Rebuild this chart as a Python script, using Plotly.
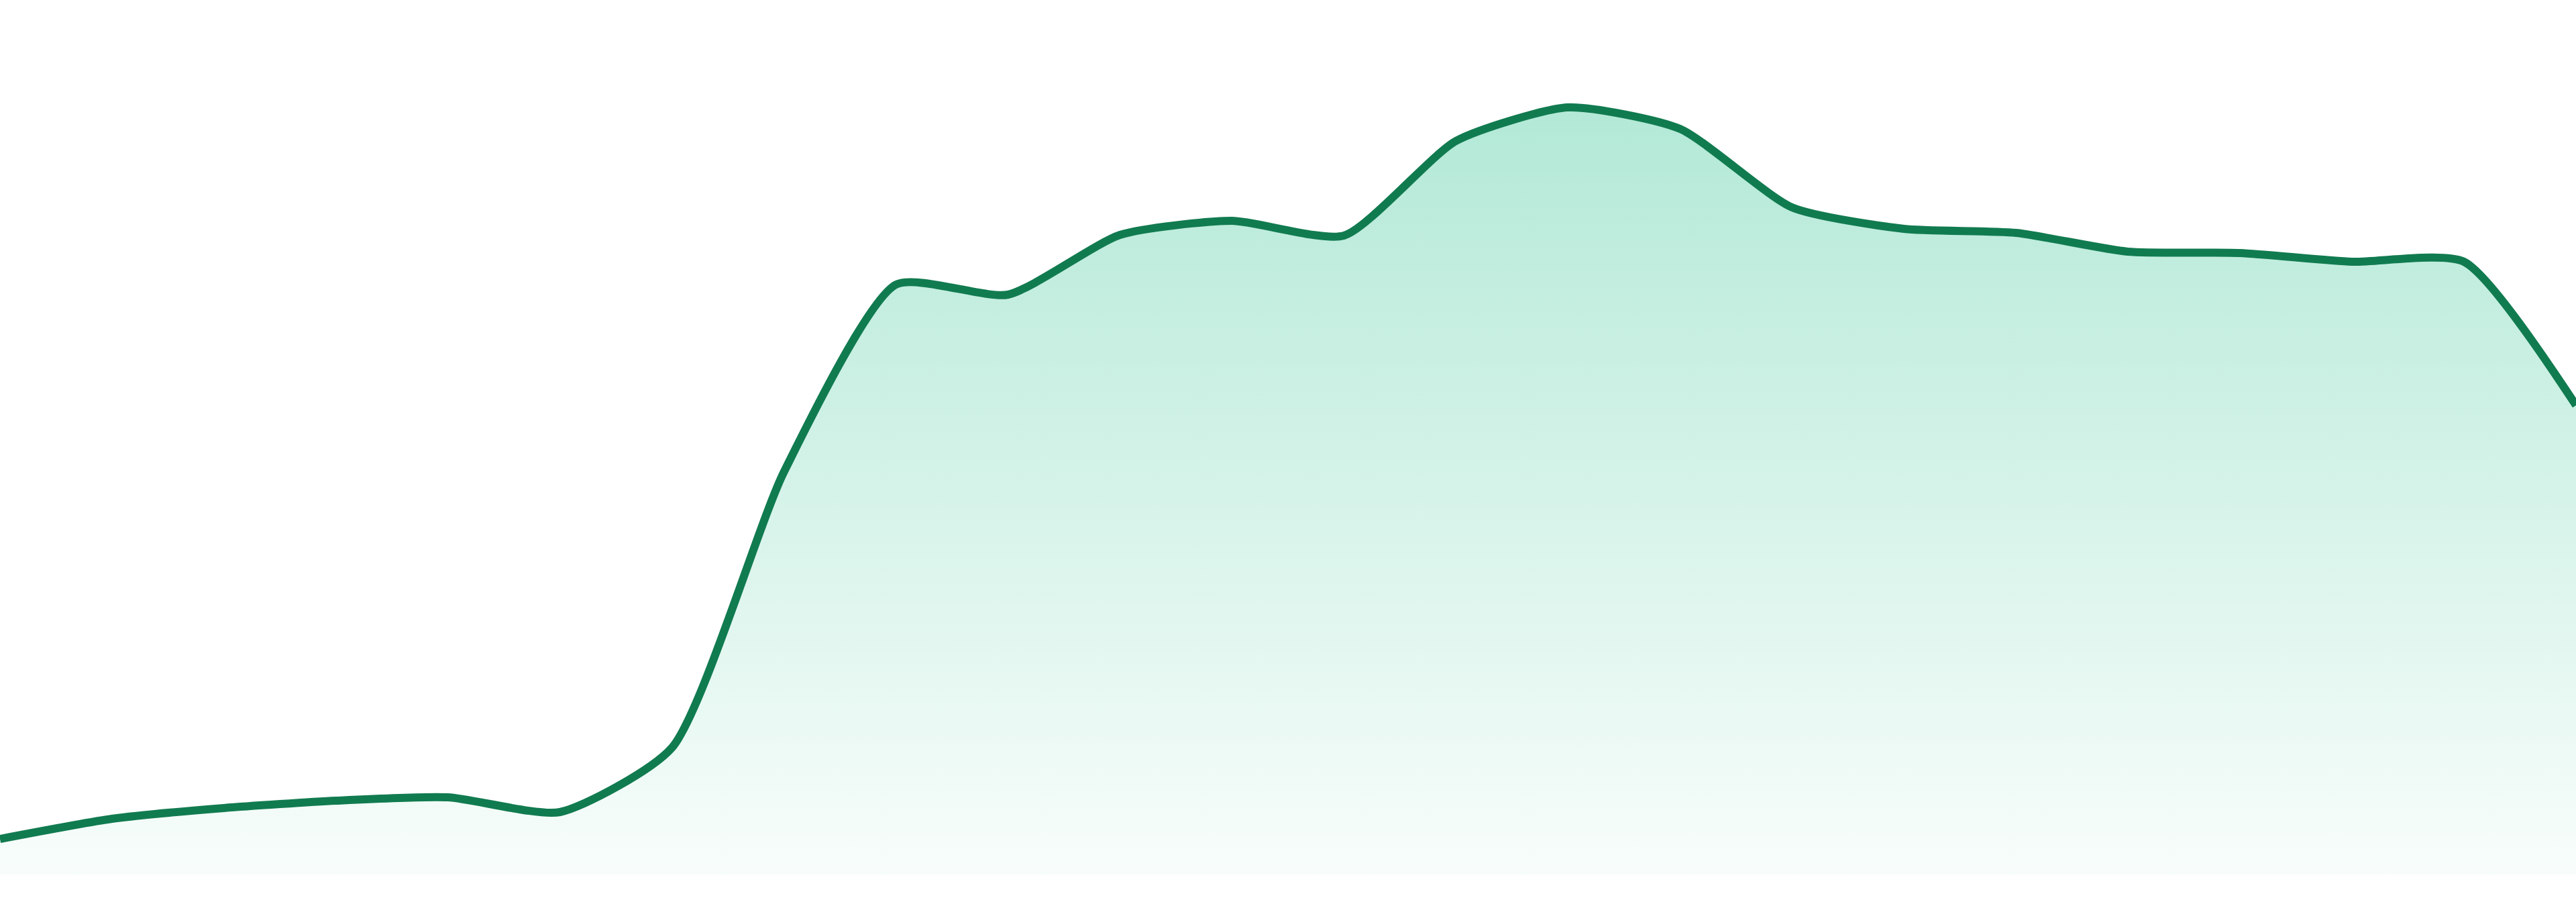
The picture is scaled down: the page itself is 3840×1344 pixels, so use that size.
import plotly.graph_objs as go

# sparkline values, one per step
steps = list(range(24))
values = [53, 83, 99, 110, 115, 93, 189, 600, 879, 864, 953, 974,
          952, 1093, 1143, 1111, 994, 962, 956, 928, 926, 913, 913, 699]

line_color = '#117B50'

trace = go.Scatter(x=steps, y=values,
                   mode='lines',
                   line=dict(color=line_color, width=12, shape='spline', smoothing=0.6),
                   fill='tozeroy',
                   fillgradient=dict(type='vertical', start=0, stop=max(values),
                                     colorscale=[[0, 'rgba(16,185,129,0.03)'],
                                                 [1, 'rgba(16,185,129,0.32)']]),
                   hoverinfo='skip',
                   showlegend=False)

layout = go.Layout(width=3840, height=1344,
                   margin=dict(l=0, r=0, t=0, b=41),
                   paper_bgcolor='white', plot_bgcolor='white',
                   xaxis=dict(range=[0, 23], showgrid=False, zeroline=False,
                              showticklabels=False, ticks=''),
                   yaxis=dict(range=[0, 1303], showgrid=False, zeroline=False,
                              showticklabels=False, ticks=''))

fig = go.Figure(data=[trace], layout=layout)
# page body has a default margin, drop it so the chart sits flush
fig.write_html("out.html", config={'displayModeBar': False},
               post_script="document.body.style.margin='0';document.body.style.overflow='hidden';")
